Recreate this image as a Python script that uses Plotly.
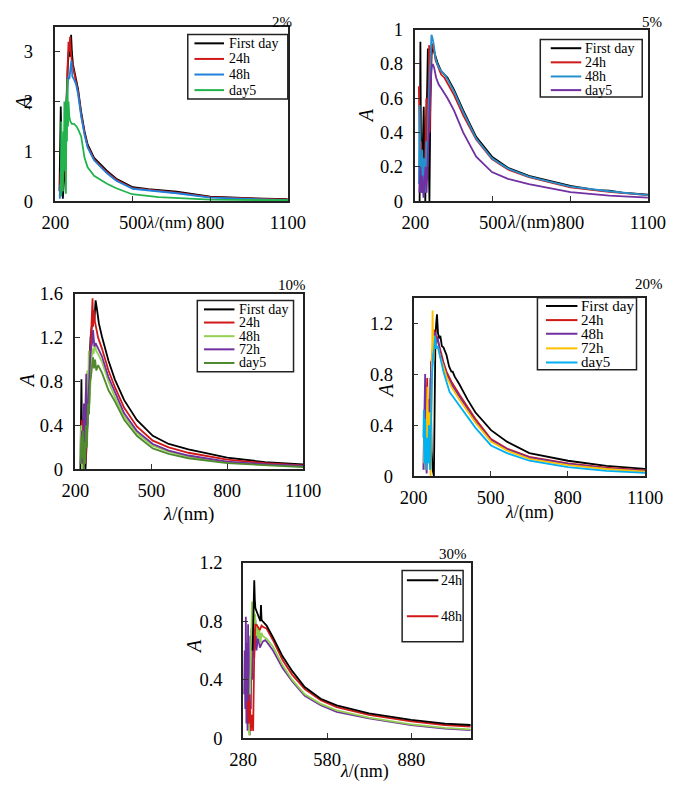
import plotly.graph_objects as go

# ---------------- Panel 1 : 2% ----------------
p1_wl_first = [216, 219, 221, 223, 226, 229, 232, 236, 240, 244, 248, 252, 255, 258, 261, 264, 268, 276, 288, 300, 313, 325, 350, 400, 436, 500, 560, 670, 800, 950, 1100]
p1_A_first = [0.2, 1.0, 1.9, 1.3, 0.6, 0.05, 0.3, 0.6, 1.4, 2.2, 2.7, 3.0, 3.15, 2.9, 3.34, 3.0, 2.75, 2.55, 2.25, 1.79, 1.40, 1.14, 0.87, 0.61, 0.45, 0.28, 0.24, 0.19, 0.09, 0.06, 0.04]
p1_wl_24h = [217, 220, 222, 225, 228, 231, 236, 240, 244, 248, 251, 254, 257, 260, 264, 270, 276, 288, 300, 313, 325, 350, 400, 436, 500, 670, 800, 950, 1100]
p1_A_24h = [0.1, 0.6, 0.3, 0.7, 0.2, 0.5, 0.9, 1.6, 2.3, 2.9, 3.2, 3.0, 3.3, 3.0, 2.8, 2.65, 2.5, 2.2, 1.74, 1.36, 1.10, 0.84, 0.58, 0.43, 0.26, 0.17, 0.08, 0.05, 0.03]
p1_wl_48h = [217, 220, 223, 226, 230, 234, 238, 242, 246, 250, 254, 258, 262, 266, 272, 280, 288, 300, 313, 325, 350, 400, 436, 500, 670, 800, 950, 1100]
p1_A_48h = [0.05, 0.35, 0.1, 0.3, 0.6, 1.0, 1.5, 1.9, 2.3, 2.5, 2.45, 2.6, 2.82, 2.5, 2.45, 2.35, 2.15, 1.70, 1.33, 1.08, 0.82, 0.56, 0.41, 0.25, 0.16, 0.07, 0.04, 0.02]
p1_wl_day5 = [221, 223, 225, 227, 229, 231, 233, 235, 237, 239, 241, 243, 245, 247, 249, 251, 254, 258, 264, 272, 282, 290, 300, 313, 325, 350, 400, 436, 497, 600, 800, 1100]
p1_A_day5 = [0.1, 1.6, 0.3, 1.1, 0.2, 1.4, 0.6, 2.0, 0.9, 1.8, 0.15, 2.1, 1.2, 2.45, 1.5, 2.0, 1.7, 1.6, 1.55, 1.55, 1.5, 1.42, 1.30, 0.87, 0.68, 0.51, 0.35, 0.26, 0.14, 0.08, 0.03, 0.02]

# ---------------- Panel 2 : 5% ----------------
p2_wl_first = [216, 219, 221, 224, 228, 232, 235, 238, 242, 245, 248, 251, 254, 258, 262, 266, 270, 278, 287, 299, 312, 324, 349, 385, 435, 496, 558, 639, 800, 900, 950, 1000, 1100]
p2_A_first = [0.0, 0.93, 0.4, 0.05, 0.3, 0.55, 0.2, 0.0, 0.4, 0.7, 0.89, 0.3, 0.0, 0.6, 0.85, 0.90, 0.88, 0.84, 0.80, 0.76, 0.74, 0.72, 0.65, 0.53, 0.375, 0.26, 0.195, 0.148, 0.09, 0.065, 0.062, 0.05, 0.038]
p2_wl_24h = [213, 216, 219, 222, 226, 230, 234, 238, 242, 246, 250, 253, 255, 258, 262, 266, 270, 278, 287, 299, 312, 324, 349, 385, 435, 496, 558, 639, 800, 950, 1100]
p2_A_24h = [0.67, 0.3, 0.1, 0.35, 0.1, 0.2, 0.05, 0.3, 0.6, 0.15, 0.5, 0.91, 0.4, 0.7, 0.88, 0.92, 0.90, 0.82, 0.78, 0.74, 0.72, 0.69, 0.62, 0.50, 0.36, 0.245, 0.185, 0.14, 0.08, 0.055, 0.035]
p2_wl_48h = [213, 216, 219, 222, 226, 230, 234, 238, 242, 246, 250, 254, 258, 262, 266, 270, 278, 287, 299, 312, 324, 349, 385, 435, 496, 558, 639, 800, 950, 1100]
p2_A_48h = [0.1, 0.56, 0.2, 0.05, 0.3, 0.1, 0.25, 0.05, 0.35, 0.2, 0.55, 0.7, 0.85, 0.97, 0.95, 0.92, 0.83, 0.79, 0.76, 0.74, 0.71, 0.64, 0.52, 0.365, 0.25, 0.19, 0.143, 0.085, 0.058, 0.035]
p2_wl_day5 = [215, 219, 223, 227, 231, 235, 239, 243, 247, 251, 255, 259, 263, 267, 272, 280, 290, 299, 312, 324, 349, 385, 435, 496, 558, 639, 800, 950, 1100]
p2_A_day5 = [0.05, 0.2, 0.05, 0.15, 0.02, 0.1, 0.2, 0.05, 0.25, 0.4, 0.55, 0.7, 0.78, 0.80, 0.78, 0.72, 0.68, 0.66, 0.63, 0.60, 0.53, 0.40, 0.26, 0.17, 0.13, 0.10, 0.053, 0.032, 0.021]

# ---------------- Panel 3 : 10% ----------------
p3_wl_first = [220, 222, 224, 226, 229, 232, 236, 240, 244, 248, 252, 256, 260, 265, 270, 275, 280, 286, 293, 305, 331, 356, 393, 443, 506, 569, 647, 800, 950, 1100]
p3_A_first = [0.0, 0.6, 0.82, 0.35, 0.45, 0.3, 0.1, 0.0, 0.2, 0.5, 0.8, 1.0, 1.2, 1.3, 1.45, 1.35, 1.54, 1.45, 1.33, 1.21, 0.99, 0.82, 0.63, 0.45, 0.305, 0.23, 0.18, 0.105, 0.065, 0.044]
p3_wl_24h = [222, 225, 228, 232, 236, 240, 245, 250, 255, 260, 265, 268, 270, 273, 277, 282, 290, 305, 331, 356, 393, 443, 506, 569, 647, 800, 950, 1100]
p3_A_24h = [0.2, 0.45, 0.38, 0.1, 0.3, 0.05, 0.4, 0.7, 0.9, 1.1, 1.35, 1.56, 1.3, 1.45, 1.35, 1.28, 1.2, 1.10, 0.90, 0.75, 0.56, 0.39, 0.26, 0.2, 0.15, 0.088, 0.055, 0.035]
p3_wl_48h = [220, 223, 226, 229, 232, 235, 238, 241, 244, 247, 250, 253, 256, 260, 264, 268, 272, 277, 282, 290, 305, 331, 356, 393, 443, 506, 569, 647, 800, 950, 1100]
p3_A_48h = [0.1, 0.4, 0.0, 0.3, 0.05, 0.5, 0.1, 0.7, 0.2, 0.9, 0.4, 1.08, 0.6, 0.9, 1.0, 1.1, 1.05, 1.15, 1.08, 1.05, 0.98, 0.80, 0.66, 0.48, 0.33, 0.215, 0.16, 0.115, 0.062, 0.04, 0.025]
p3_wl_72h = [222, 226, 230, 234, 237, 240, 243, 246, 250, 254, 258, 262, 266, 270, 275, 280, 290, 305, 331, 356, 393, 443, 506, 569, 647, 800, 950, 1100]
p3_A_72h = [0.05, 0.35, 0.05, 0.6, 0.2, 0.7, 0.87, 0.3, 0.6, 0.85, 1.0, 1.1, 1.15, 1.27, 1.12, 1.15, 1.1, 1.03, 0.84, 0.70, 0.51, 0.35, 0.23, 0.17, 0.125, 0.07, 0.045, 0.03]
p3_wl_day5 = [221, 224, 227, 230, 233, 236, 239, 242, 246, 250, 254, 258, 262, 266, 270, 274, 278, 283, 290, 305, 331, 356, 393, 443, 506, 569, 647, 800, 950, 1100]
p3_A_day5 = [0.05, 0.3, 0.1, 0.35, 0.0, 0.25, 0.05, 0.4, 0.2, 0.6, 0.5, 0.8, 0.85, 0.95, 1.02, 0.92, 1.0, 0.9, 0.95, 0.88, 0.72, 0.62, 0.45, 0.305, 0.19, 0.14, 0.10, 0.055, 0.035, 0.02]

# ---------------- Panel 4 : 20% ----------------
p4_wl_first = [262, 266, 270, 274, 279, 281, 285, 288, 291, 295, 300, 304, 310, 316, 322, 328, 338, 347, 352, 360, 378, 410, 440, 501, 563, 650, 800, 950, 1100]
p4_A_first = [0.1, 0.77, 0.2, 0.05, 0.0, 0.6, 1.1, 1.2, 1.27, 1.12, 1.08, 1.10, 1.02, 1.01, 0.98, 0.95, 0.86, 0.82, 0.82, 0.78, 0.72, 0.60, 0.50, 0.36, 0.27, 0.18, 0.12, 0.08, 0.056]
p4_wl_24h = [240, 243, 246, 250, 253, 256, 259, 262, 266, 270, 274, 277, 281, 285, 290, 296, 304, 316, 328, 347, 378, 440, 501, 563, 650, 800, 950, 1100]
p4_A_24h = [0.1, 0.5, 0.05, 0.4, 0.77, 0.2, 0.6, 0.1, 0.5, 0.9, 1.0, 0.95, 1.15, 1.0, 1.1, 1.05, 0.98, 0.895, 0.82, 0.74, 0.64, 0.45, 0.29, 0.215, 0.15, 0.10, 0.065, 0.045]
p4_wl_48h = [238, 241, 245, 248, 251, 254, 257, 260, 264, 268, 272, 276, 280, 284, 288, 294, 304, 316, 328, 347, 378, 440, 501, 563, 650, 800, 950, 1100]
p4_A_48h = [0.05, 0.3, 0.80, 0.1, 0.02, 0.5, 0.15, 0.6, 0.3, 0.9, 0.85, 1.0, 1.1, 1.13, 1.05, 1.08, 0.95, 0.87, 0.80, 0.72, 0.62, 0.43, 0.28, 0.21, 0.145, 0.095, 0.06, 0.04]
p4_wl_72h = [240, 243, 247, 250, 254, 258, 262, 266, 270, 274, 277, 280, 284, 288, 294, 304, 316, 328, 347, 378, 440, 501, 563, 650, 800, 950, 1100]
p4_A_72h = [0.1, 0.4, 0.05, 0.3, 0.7, 0.1, 0.5, 0.0, 0.6, 1.30, 0.9, 1.1, 1.05, 1.0, 1.02, 0.93, 0.86, 0.78, 0.70, 0.60, 0.42, 0.27, 0.20, 0.135, 0.085, 0.055, 0.035]
p4_wl_day5 = [238, 240, 242, 245, 248, 252, 256, 260, 264, 268, 272, 276, 280, 284, 288, 294, 304, 316, 328, 340, 347, 378, 440, 501, 563, 650, 800, 950, 1100]
p4_A_day5 = [0.3, 0.52, 0.1, 0.45, 0.05, 0.3, 0.1, 0.4, 0.05, 0.5, 0.8, 0.95, 1.0, 1.1, 1.0, 1.02, 0.92, 0.82, 0.74, 0.66, 0.64, 0.55, 0.38, 0.24, 0.18, 0.12, 0.07, 0.04, 0.025]

# ---------------- Panel 5 : 30% ----------------
p5_wl_24h = [314, 316, 318, 320, 322, 324, 330, 337, 342, 344, 346, 350, 364, 387, 421, 455, 500, 557, 614, 729, 880, 1000, 1092]
p5_A_24h = [0.6, 0.85, 0.9, 1.08, 0.95, 0.89, 0.86, 0.82, 0.80, 0.91, 0.81, 0.80, 0.77, 0.69, 0.56, 0.46, 0.35, 0.27, 0.225, 0.17, 0.125, 0.10, 0.09]
p5_wl_48h = [296, 300, 304, 308, 312, 316, 320, 324, 330, 340, 346, 352, 364, 387, 421, 455, 500, 557, 614, 729, 880, 1000, 1092]
p5_A_48h = [0.25, 0.1, 0.3, 0.05, 0.16, 0.05, 0.6, 0.78, 0.77, 0.74, 0.77, 0.76, 0.75, 0.67, 0.535, 0.435, 0.335, 0.26, 0.213, 0.16, 0.115, 0.09, 0.08]
p5_wl_s3 = [284, 286, 288, 290, 292, 294, 296, 298, 300, 302, 304, 306, 308, 310, 313, 316, 320, 324, 328, 334, 340, 350, 359, 364, 387, 421, 455, 500, 557, 614, 729, 880, 1000, 1092]
p5_A_s3 = [0.3, 0.6, 0.2, 0.83, 0.1, 0.65, 0.05, 0.78, 0.1, 0.5, 0.02, 0.7, 0.2, 0.75, 0.4, 0.8, 0.55, 0.81, 0.6, 0.7, 0.62, 0.66, 0.67, 0.66, 0.60, 0.48, 0.39, 0.29, 0.225, 0.18, 0.135, 0.09, 0.065, 0.055]
p5_wl_s4 = [300, 303, 306, 309, 312, 314, 317, 320, 323, 326, 330, 334, 338, 342, 346, 350, 359, 364, 387, 421, 455, 500, 557, 614, 729, 880, 1000, 1092]
p5_A_s4 = [0.05, 0.02, 0.4, 0.85, 0.935, 0.7, 0.9, 0.75, 0.85, 0.7, 0.78, 0.68, 0.75, 0.65, 0.72, 0.7, 0.69, 0.68, 0.625, 0.50, 0.40, 0.30, 0.235, 0.19, 0.14, 0.095, 0.07, 0.06]

titles = ["2%", "5%", "10%", "20%", "30%"]
x_ticks_main = [200, 500, 800, 1100]
x_ticks_p5 = [280, 580, 880]

BLACK = "#000000"; RED = "#d01818"; BLUE = "#1e80d8"; TEAL = "#2590cc"
GREEN = "#22b34c"; PURPLE = "#7030a0"; LGREEN = "#92d050"; DGREEN = "#4f8a2e"
YELLOW = "#ffc000"; LBLUE = "#00b0f0"

FONT = "Liberation Serif"
# figure size; the page places the figure after the 8px body margin
W, H = 677, 785
OX, OY = 8, 8


def px(x):
    return (x - OX) / W


def py(y):
    return 1 - (y - OY) / H


fig = go.Figure()

series = {
    1: [("First day", p1_wl_first, p1_A_first, BLACK), ("24h", p1_wl_24h, p1_A_24h, RED),
        ("48h", p1_wl_48h, p1_A_48h, BLUE), ("day5", p1_wl_day5, p1_A_day5, GREEN)],
    2: [("First day", p2_wl_first, p2_A_first, BLACK), ("24h", p2_wl_24h, p2_A_24h, RED),
        ("48h", p2_wl_48h, p2_A_48h, TEAL), ("day5", p2_wl_day5, p2_A_day5, PURPLE)],
    3: [("First day", p3_wl_first, p3_A_first, BLACK), ("24h", p3_wl_24h, p3_A_24h, RED),
        ("48h", p3_wl_48h, p3_A_48h, LGREEN), ("72h", p3_wl_72h, p3_A_72h, PURPLE),
        ("day5", p3_wl_day5, p3_A_day5, DGREEN)],
    4: [("First day", p4_wl_first, p4_A_first, BLACK), ("24h", p4_wl_24h, p4_A_24h, RED),
        ("48h", p4_wl_48h, p4_A_48h, PURPLE), ("72h", p4_wl_72h, p4_A_72h, YELLOW),
        ("day5", p4_wl_day5, p4_A_day5, LBLUE)],
    5: [("s3", p5_wl_s3, p5_A_s3, PURPLE), ("s4", p5_wl_s4, p5_A_s4, LGREEN),
        ("48h", p5_wl_48h, p5_A_48h, RED), ("24h", p5_wl_24h, p5_A_24h, BLACK)],
}
legend_items = {
    1: ["First day", "24h", "48h", "day5"],
    2: ["First day", "24h", "48h", "day5"],
    3: ["First day", "24h", "48h", "72h", "day5"],
    4: ["First day", "24h", "48h", "72h", "day5"],
    5: ["24h", "48h"],
}

for k, lst in series.items():
    ax = "" if k == 1 else str(k)
    for name, wl, A, color in lst:
        fig.add_trace(go.Scatter(x=wl, y=A, mode="lines", name=name,
                                 line=dict(color=color, width=1.8),
                                 xaxis="x" + ax, yaxis="y" + ax, showlegend=False))

# panel boxes in reference pixels: (left, right, top, bottom)
panels = {
    1: dict(box=(43, 287, 17, 196), xr=[200, 1100], yr=[0, 3.5], yt=[0, 1, 2, 3], xt=x_ticks_main, ysd=17),
    2: dict(box=(421, 665, 20, 196), xr=[200, 1100], yr=[0, 1.0], yt=[0, 0.2, 0.4, 0.6, 0.8, 1], xt=x_ticks_main, ysd=7),
    3: dict(box=(64, 303, 291, 471), xr=[200, 1100], yr=[0, 1.6], yt=[0, 0.4, 0.8, 1.2, 1.6], xt=x_ticks_main, ysd=7),
    4: dict(box=(419, 662, 295, 478), xr=[200, 1100], yr=[0, 1.4], yt=[0, 0.4, 0.8, 1.2], xt=x_ticks_main, ysd=15),
    5: dict(box=(240, 479, 567, 747), xr=[280, 1092], yr=[0, 1.2], yt=[0, 0.4, 0.8, 1.2], xt=x_ticks_p5, ysd=15),
}

layout = {}
for k, p in panels.items():
    l, r, t, b = p["box"]
    ax = "" if k == 1 else str(k)
    common = dict(showline=True, linecolor="#222", linewidth=1.5, mirror=True,
                  ticks="inside", ticklen=5, tickcolor="#333", showgrid=False, zeroline=False,
                  tickfont=dict(family=FONT, size=18.5, color="black"))
    layout["xaxis" + ax] = dict(domain=[px(l), px(r)], range=p["xr"], tickvals=p["xt"],
                                anchor="y" + ax, ticklabelstandoff=4, **common)
    layout["yaxis" + ax] = dict(domain=[py(b), py(t)], range=p["yr"], tickvals=p["yt"],
                                anchor="x" + ax, ticklabelstandoff=p["ysd"], **common)
fig.update_layout(**layout)

shapes = []
annotations = []

# legends drawn as boxes with sample lines and labels
legend_geom = {
    1: dict(box=(182, 25, 287, 91), line=(189, 220), tx=223, rows=[34, 50, 66, 82], fs=14),
    2: dict(box=(552, 30, 659, 89), line=(563, 595), tx=597, rows=[39, 53.5, 68, 82], fs=14),
    3: dict(box=(192, 298, 293, 371), line=(199, 231), tx=234, rows=[307, 320.5, 334.5, 348, 362], fs=14),
    4: dict(box=(549, 295, 653, 369), line=(558, 591), tx=593, rows=[303.5, 318, 332, 347, 361.5], fs=15),
    5: dict(box=(407, 575, 471, 648), line=(412, 445), tx=446, rows=[585, 622], fs=14),
}
for k, g in legend_geom.items():
    x0, y0, x1, y1 = g["box"]
    shapes.append(dict(type="rect", xref="paper", yref="paper", x0=px(x0), x1=px(x1), y0=py(y1), y1=py(y0),
                       line=dict(color="#222", width=1.5), fillcolor="white", layer="above"))
    colors = {name: color for name, _, _, color in series[k]}
    for name, ry in zip(legend_items[k], g["rows"]):
        shapes.append(dict(type="line", xref="paper", yref="paper", x0=px(g["line"][0]), x1=px(g["line"][1]),
                           y0=py(ry), y1=py(ry), line=dict(color=colors[name], width=2), layer="above"))
        annotations.append(dict(text=name, x=px(g["tx"]), y=py(ry), xref="paper", yref="paper",
                                xanchor="left", yanchor="middle", showarrow=False,
                                font=dict(family=FONT, size=g["fs"], color="black")))

# panel titles
title_pos = {1: (293, 12), 2: (682, 12), 3: (308, 282), 4: (683, 281), 5: (477, 558)}
for k, (rx, cy) in title_pos.items():
    annotations.append(dict(text=titles[k - 1], x=px(rx), y=py(cy), xref="paper", yref="paper",
                            xanchor="right", yanchor="middle", showarrow=False,
                            font=dict(family=FONT, size=15, color="black")))
# y axis titles
ya_pos = {1: (9, 95), 2: (370, 108), 3: (13, 380), 4: (390, 390), 5: (188, 653)}
for k, (cx, cy) in ya_pos.items():
    annotations.append(dict(text="<i>A</i>", x=px(cx), y=py(cy), xref="paper", yref="paper",
                            xanchor="center", yanchor="middle", showarrow=False, textangle=-90,
                            font=dict(family=FONT, size=20, color="black")))
# x axis titles
xa_pos = {1: (162, 218, 17), 2: (543, 218, 18), 3: (183, 517, 19), 4: (541, 515, 18), 5: (368, 781, 18)}
for k, (cx, cy, f) in xa_pos.items():
    annotations.append(dict(text="<i>λ</i>/(nm)", x=px(cx), y=py(cy), xref="paper", yref="paper",
                            xanchor="center", yanchor="middle", showarrow=False,
                            font=dict(family=FONT, size=f, color="black")))

fig.update_layout(shapes=shapes, annotations=annotations, width=W, height=H,
                  margin=dict(l=0, r=0, t=0, b=0), showlegend=False,
                  font=dict(family=FONT, color="black"),
                  paper_bgcolor="white", plot_bgcolor="white")

fig.write_html("out.html")
